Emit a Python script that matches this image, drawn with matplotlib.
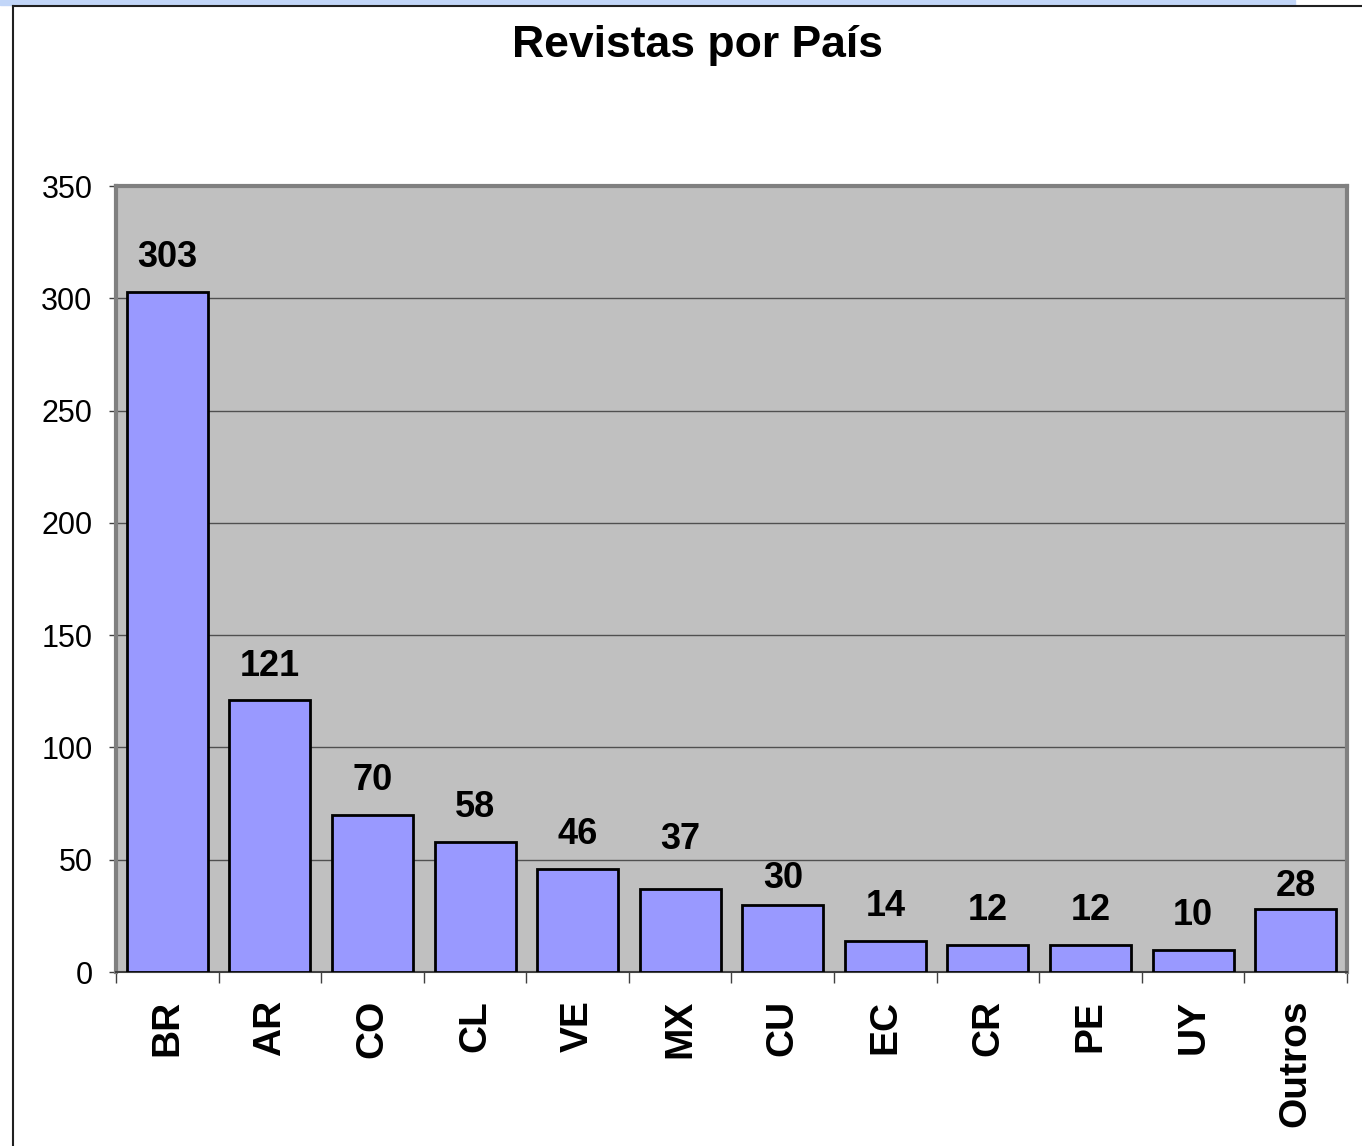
import matplotlib.pyplot as plt
from matplotlib.lines import Line2D
from matplotlib.patches import Rectangle

plt.rcParams['font.family'] = ['Liberation Sans', 'DejaVu Sans']

paises = ['BR', 'AR', 'CO', 'CL', 'VE', 'MX', 'CU', 'EC', 'CR', 'PE', 'UY', 'Outros']
revistas = [303, 121, 70, 58, 46, 37, 30, 14, 12, 12, 10, 28]
yticks = [0, 50, 100, 150, 200, 250, 300, 350]

# ajuste dos rotulos que o Excel deslocou (em pontos)
ajuste_rotulo = {'MX': 11, 'CU': -6, 'Outros': -8}

fig = plt.figure(figsize=(13.62, 11.46), dpi=100)

# moldura do grafico e faixa azul do slide
fig.patches.append(Rectangle((0, 1 - 5 / 1146), 1295 / 1362, 5 / 1146,
                             transform=fig.transFigure, color='#c2d6f8', zorder=0))
fig.lines.append(Line2D([13 / 1362, 13 / 1362], [0, 1 - 6 / 1146],
                        transform=fig.transFigure, color='#202020', lw=1.5))
fig.lines.append(Line2D([13 / 1362, 1], [1 - 6 / 1146, 1 - 6 / 1146],
                        transform=fig.transFigure, color='#202020', lw=1.5))

ax = fig.add_axes([116 / 1362, 1 - 972 / 1146, (1347 - 116) / 1362, (972 - 186) / 1146])
ax.set_facecolor('#c0c0c0')

x = range(len(paises))
bars = ax.bar(x, revistas, width=0.79, color='#9999ff', edgecolor='black',
              linewidth=2, zorder=3)

for xi, p, v in zip(x, paises, revistas):
    dy = 12 + ajuste_rotulo.get(p, 0)
    ax.annotate(str(v), (xi, v), xytext=(0, dy), textcoords='offset points',
                ha='center', va='bottom', fontsize=26, fontweight='bold')

ax.set_xlim(-0.5, len(paises) - 0.5)
ax.set_ylim(0, 350)
ax.set_yticks(yticks)
ax.set_yticklabels([str(t) for t in yticks], fontsize=22)
ax.yaxis.grid(True, color='#505050', linewidth=1, zorder=0)
ax.set_axisbelow(True)

ax.set_xticks([i + 0.5 for i in range(-1, len(paises))], minor=False)
ax.set_xticklabels([])
ax.set_xticks(list(x), minor=True)
ax.set_xticklabels(paises, minor=True, rotation=90, fontsize=28, fontweight='bold')
ax.tick_params(axis='x', which='minor', length=0, pad=20)
ax.tick_params(axis='x', which='major', length=8, width=1, color='#404040')
ax.tick_params(axis='y', length=5, width=1, color='#404040', pad=12)

for s in ax.spines.values():
    s.set_color('#808080')
    s.set_linewidth(3)
ax.spines['bottom'].set_color('#404040')
ax.spines['bottom'].set_linewidth(1.5)

fig.text(698 / 1362, 1 - 45 / 1146, 'Revistas por País', ha='center', va='center',
         fontsize=32, fontweight='bold')

fig.savefig('out.png', dpi=100)
